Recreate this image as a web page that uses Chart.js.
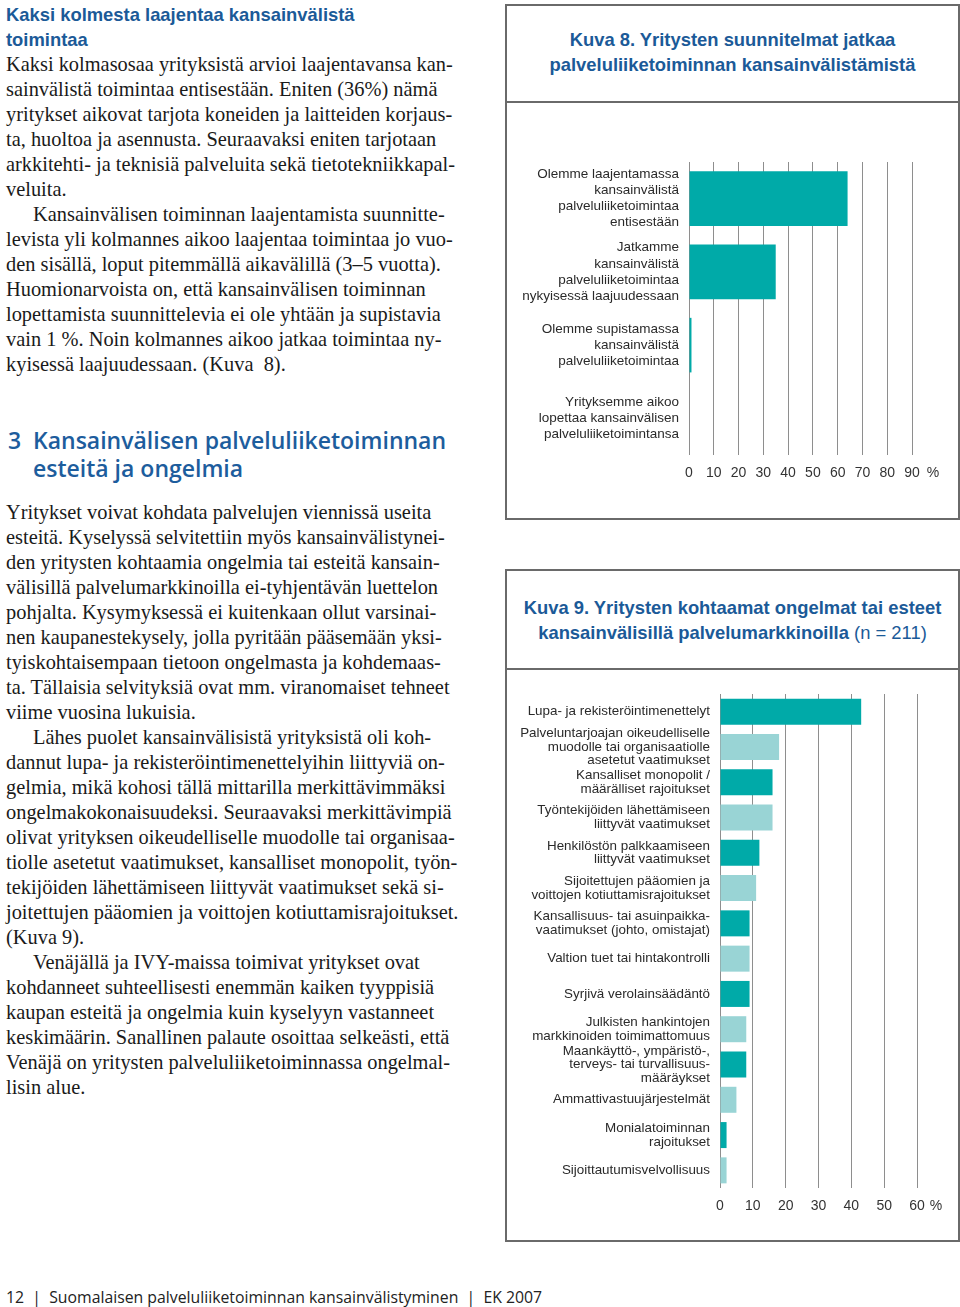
<!DOCTYPE html>
<html lang="fi">
<head>
<meta charset="utf-8">
<script src="https://cdn.jsdelivr.net/npm/chart.js@4/dist/chart.umd.min.js"></script>
<style>
  html, body { margin: 0; padding: 0; background: #fff; }
  body { width: 960px; height: 1307px; position: relative; overflow: hidden; }
  .col { position: absolute; left: 6px; width: 470px; font-family: "Liberation Serif", "Times New Roman", serif;
         font-size: 20.4px; line-height: 25px; color: #1a1a1a; white-space: nowrap; }
  .col div { height: 25px; }
  .col .in { padding-left: 27px; }
  .h { font-family: "Liberation Sans", Arial, sans-serif; font-weight: bold; font-size: 18.4px; color: #1b5a98; }
  .sec { position: absolute; left: 8px; top: 426px; font-family: "Open Sans", sans-serif; font-weight: 600;
         font-size: 23px; line-height: 28px; color: #1d5d9d; white-space: nowrap; }
  .sec span { display: inline-block; width: 25px; }
  .box { position: absolute; left: 505px; width: 451px; border: 2px solid #6a6a6a; }
  .title { position: absolute; left: 0; right: 0; border-bottom: 2px solid #6a6a6a; text-align: center; box-sizing: border-box;
           font-family: "Liberation Sans", Arial, sans-serif; font-weight: bold; font-size: 18.4px; line-height: 25px; color: #1b5a98; }
  .title .n { font-weight: normal; }
  canvas { position: absolute; }
  .foot { position: absolute; left: 6px; top: 1286px; font-family: "Open Sans", sans-serif; font-size: 15.8px; color: #222; white-space: nowrap; }
</style>
</head>
<body>

<div class="col" style="top:2px">
  <div class="h">Kaksi kolmesta laajentaa kansainvälistä</div>
  <div class="h">toimintaa</div>
  <div>Kaksi kolmasosaa yrityksistä arvioi laajentavansa kan-</div>
  <div>sainvälistä toimintaa entisestään. Eniten (36%) nämä</div>
  <div>yritykset aikovat tarjota koneiden ja laitteiden korjaus-</div>
  <div>ta, huoltoa ja asennusta. Seuraavaksi eniten tarjotaan</div>
  <div>arkkitehti- ja teknisiä palveluita sekä tietotekniikkapal-</div>
  <div>veluita.</div>
  <div class="in">Kansainvälisen toiminnan laajentamista suunnitte-</div>
  <div>levista yli kolmannes aikoo laajentaa toimintaa jo vuo-</div>
  <div>den sisällä, loput pitemmällä aikavälillä (3–5 vuotta).</div>
  <div>Huomionarvoista on, että kansainvälisen toiminnan</div>
  <div>lopettamista suunnittelevia ei ole yhtään ja supistavia</div>
  <div>vain 1 %. Noin kolmannes aikoo jatkaa toimintaa ny-</div>
  <div>kyisessä laajuudessaan. (Kuva &nbsp;8).</div>
</div>

<div class="sec"><span>3</span>Kansainvälisen palveluliiketoiminnan<br><span></span>esteitä ja ongelmia</div>

<div class="col" style="top:500px">
  <div>Yritykset voivat kohdata palvelujen viennissä useita</div>
  <div>esteitä. Kyselyssä selvitettiin myös kansainvälistynei-</div>
  <div>den yritysten kohtaamia ongelmia tai esteitä kansain-</div>
  <div>välisillä palvelumarkkinoilla ei-tyhjentävän luettelon</div>
  <div>pohjalta. Kysymyksessä ei kuitenkaan ollut varsinai-</div>
  <div>nen kaupanestekysely, jolla pyritään pääsemään yksi-</div>
  <div>tyiskohtaisempaan tietoon ongelmasta ja kohdemaas-</div>
  <div>ta. Tällaisia selvityksiä ovat mm. viranomaiset tehneet</div>
  <div>viime vuosina lukuisia.</div>
  <div class="in">Lähes puolet kansainvälisistä yrityksistä oli koh-</div>
  <div>dannut lupa- ja rekisteröintimenettelyihin liittyviä on-</div>
  <div>gelmia, mikä kohosi tällä mittarilla merkittävimmäksi</div>
  <div>ongelmakokonaisuudeksi. Seuraavaksi merkittävimpiä</div>
  <div>olivat yrityksen oikeudelliselle muodolle tai organisaa-</div>
  <div>tiolle asetetut vaatimukset, kansalliset monopolit, työn-</div>
  <div>tekijöiden lähettämiseen liittyvät vaatimukset sekä si-</div>
  <div>joitettujen pääomien ja voittojen kotiuttamisrajoitukset.</div>
  <div>(Kuva 9).</div>
  <div class="in">Venäjällä ja IVY-maissa toimivat yritykset ovat</div>
  <div>kohdanneet suhteellisesti enemmän kaiken tyyppisiä</div>
  <div>kaupan esteitä ja ongelmia kuin kyselyyn vastanneet</div>
  <div>keskimäärin. Sanallinen palaute osoittaa selkeästi, että</div>
  <div>Venäjä on yritysten palveluliiketoiminnassa ongelmal-</div>
  <div>lisin alue.</div>
</div>

<div class="box" style="top:4px; height:512px;">
  <div class="title" style="top:0; height:97px; padding-top:21px;">
    Kuva 8. Yritysten suunnitelmat jatkaa<br>palveluliiketoiminnan kansainvälistämistä
  </div>
</div>
<canvas id="plans" width="451" height="412" style="left:506px; top:104px;"></canvas>

<div class="box" style="top:569px; height:669px;">
  <div class="title" style="top:0; height:99px; padding-top:24px;">
    Kuva 9. Yritysten kohtaamat ongelmat tai esteet<br>kansainvälisillä palvelumarkkinoilla <span class="n">(n = 211)</span>
  </div>
</div>
<canvas id="obstacles" width="451" height="568" style="left:506px; top:671px;"></canvas>

<div class="foot">12 &nbsp;| &nbsp;Suomalaisen palveluliiketoiminnan kansainvälistyminen &nbsp;| &nbsp;EK 2007</div>

<script>
// Kuva 8
const plansLabels = [
  ['Olemme laajentamassa', 'kansainvälistä', 'palveluliiketoimintaa', 'entisestään'],
  ['Jatkamme', 'kansainvälistä', 'palveluliiketoimintaa', 'nykyisessä laajuudessaan'],
  ['Olemme supistamassa', 'kansainvälistä', 'palveluliiketoimintaa'],
  ['Yrityksemme aikoo', 'lopettaa kansainvälisen', 'palveluliiketoimintansa']
];
const plansValues = [64, 35, 1, 0];
const plansMax = 90;

// Kuva 9
const obstacleLabels = [
  'Lupa- ja rekisteröintimenettelyt',
  ['Palveluntarjoajan oikeudelliselle', 'muodolle tai organisaatiolle', 'asetetut vaatimukset'],
  ['Kansalliset monopolit /', 'määrälliset rajoitukset'],
  ['Työntekijöiden lähettämiseen', 'liittyvät vaatimukset'],
  ['Henkilöstön palkkaamiseen', 'liittyvät vaatimukset'],
  ['Sijoitettujen pääomien ja', 'voittojen kotiuttamisrajoitukset'],
  ['Kansallisuus- tai asuinpaikka-', 'vaatimukset (johto, omistajat)'],
  'Valtion tuet tai hintakontrolli',
  'Syrjivä verolainsäädäntö',
  ['Julkisten hankintojen', 'markkinoiden toimimattomuus'],
  ['Maankäyttö-, ympäristö-,', 'terveys- tai turvallisuus-', 'määräykset'],
  'Ammattivastuujärjestelmät',
  ['Monialatoiminnan', 'rajoitukset'],
  'Sijoittautumisvelvollisuus'
];
const obstacleValues = [43, 18, 16, 16, 12, 11, 9, 9, 9, 8, 8, 5, 2, 2];
const obstacleMax = 60;

const TEAL = '#00aaa8';
const TEAL_LIGHT = '#99d4d5';
const GRID = '#8e8e8e';
const FONT = '"Liberation Sans", Arial, sans-serif';

// "%" merkki viimeisen asteikkoluvun perään
const percentSign = {
  id: 'percentSign',
  afterDraw(chart, args, opts) {
    const x = chart.scales.x;
    const ctx = chart.ctx;
    ctx.save();
    ctx.font = '14px ' + FONT;
    ctx.fillStyle = '#333';
    ctx.textAlign = 'center';
    ctx.textBaseline = 'middle';
    ctx.fillText('%', x.getPixelForValue(x.max) + opts.offset, x.top + opts.dy);
    ctx.restore();
  }
};

function makeChart(id, labels, values, max, cfg) {
  return new Chart(document.getElementById(id), {
    type: 'bar',
    data: {
      labels: labels,
      datasets: [{
        data: values,
        backgroundColor: cfg.colors,
        borderWidth: 0,
        categoryPercentage: 1,
        barPercentage: cfg.barPct
      }]
    },
    options: {
      indexAxis: 'y',
      responsive: false,
      animation: false,
      devicePixelRatio: 1,
      layout: { padding: cfg.padding },
      plugins: {
        legend: { display: false },
        tooltip: { enabled: false },
        percentSign: { offset: cfg.pctOffset, dy: 18 }
      },
      scales: {
        x: {
          min: 0,
          max: max,
          ticks: { stepSize: 10, padding: 10, color: '#333', font: { family: FONT, size: 14 } },
          grid: { color: GRID, lineWidth: 1, drawTicks: false },
          border: { display: false },
          afterFit: s => { s.height = cfg.xHeight; }
        },
        y: {
          grid: { display: false, drawTicks: false },
          border: { display: false },
          ticks: {
            autoSkip: false,
            padding: 10,
            color: '#2a2a2a',
            font: { family: FONT, size: cfg.labelSize, lineHeight: cfg.labelLH }
          },
          afterFit: s => { s.width = cfg.yWidth; }
        }
      }
    },
    plugins: [percentSign]
  });
}

makeChart('plans', plansLabels, plansValues, plansMax, {
  colors: TEAL,
  barPct: 0.745,
  padding: { top: 58, right: 45, bottom: 0, left: 0 },
  xHeight: 61,
  yWidth: 183,
  labelSize: 13.5,
  labelLH: 1.19,
  pctOffset: 21
});

makeChart('obstacles', obstacleLabels, obstacleValues, obstacleMax, {
  colors: ctx => (ctx.dataIndex % 2 ? TEAL_LIGHT : TEAL),
  barPct: 0.737,
  padding: { top: 23, right: 40, bottom: 0, left: 0 },
  xHeight: 51,
  yWidth: 214,
  labelSize: 13.4,
  labelLH: 1.02,
  pctOffset: 19
});
</script>
</body>
</html>
